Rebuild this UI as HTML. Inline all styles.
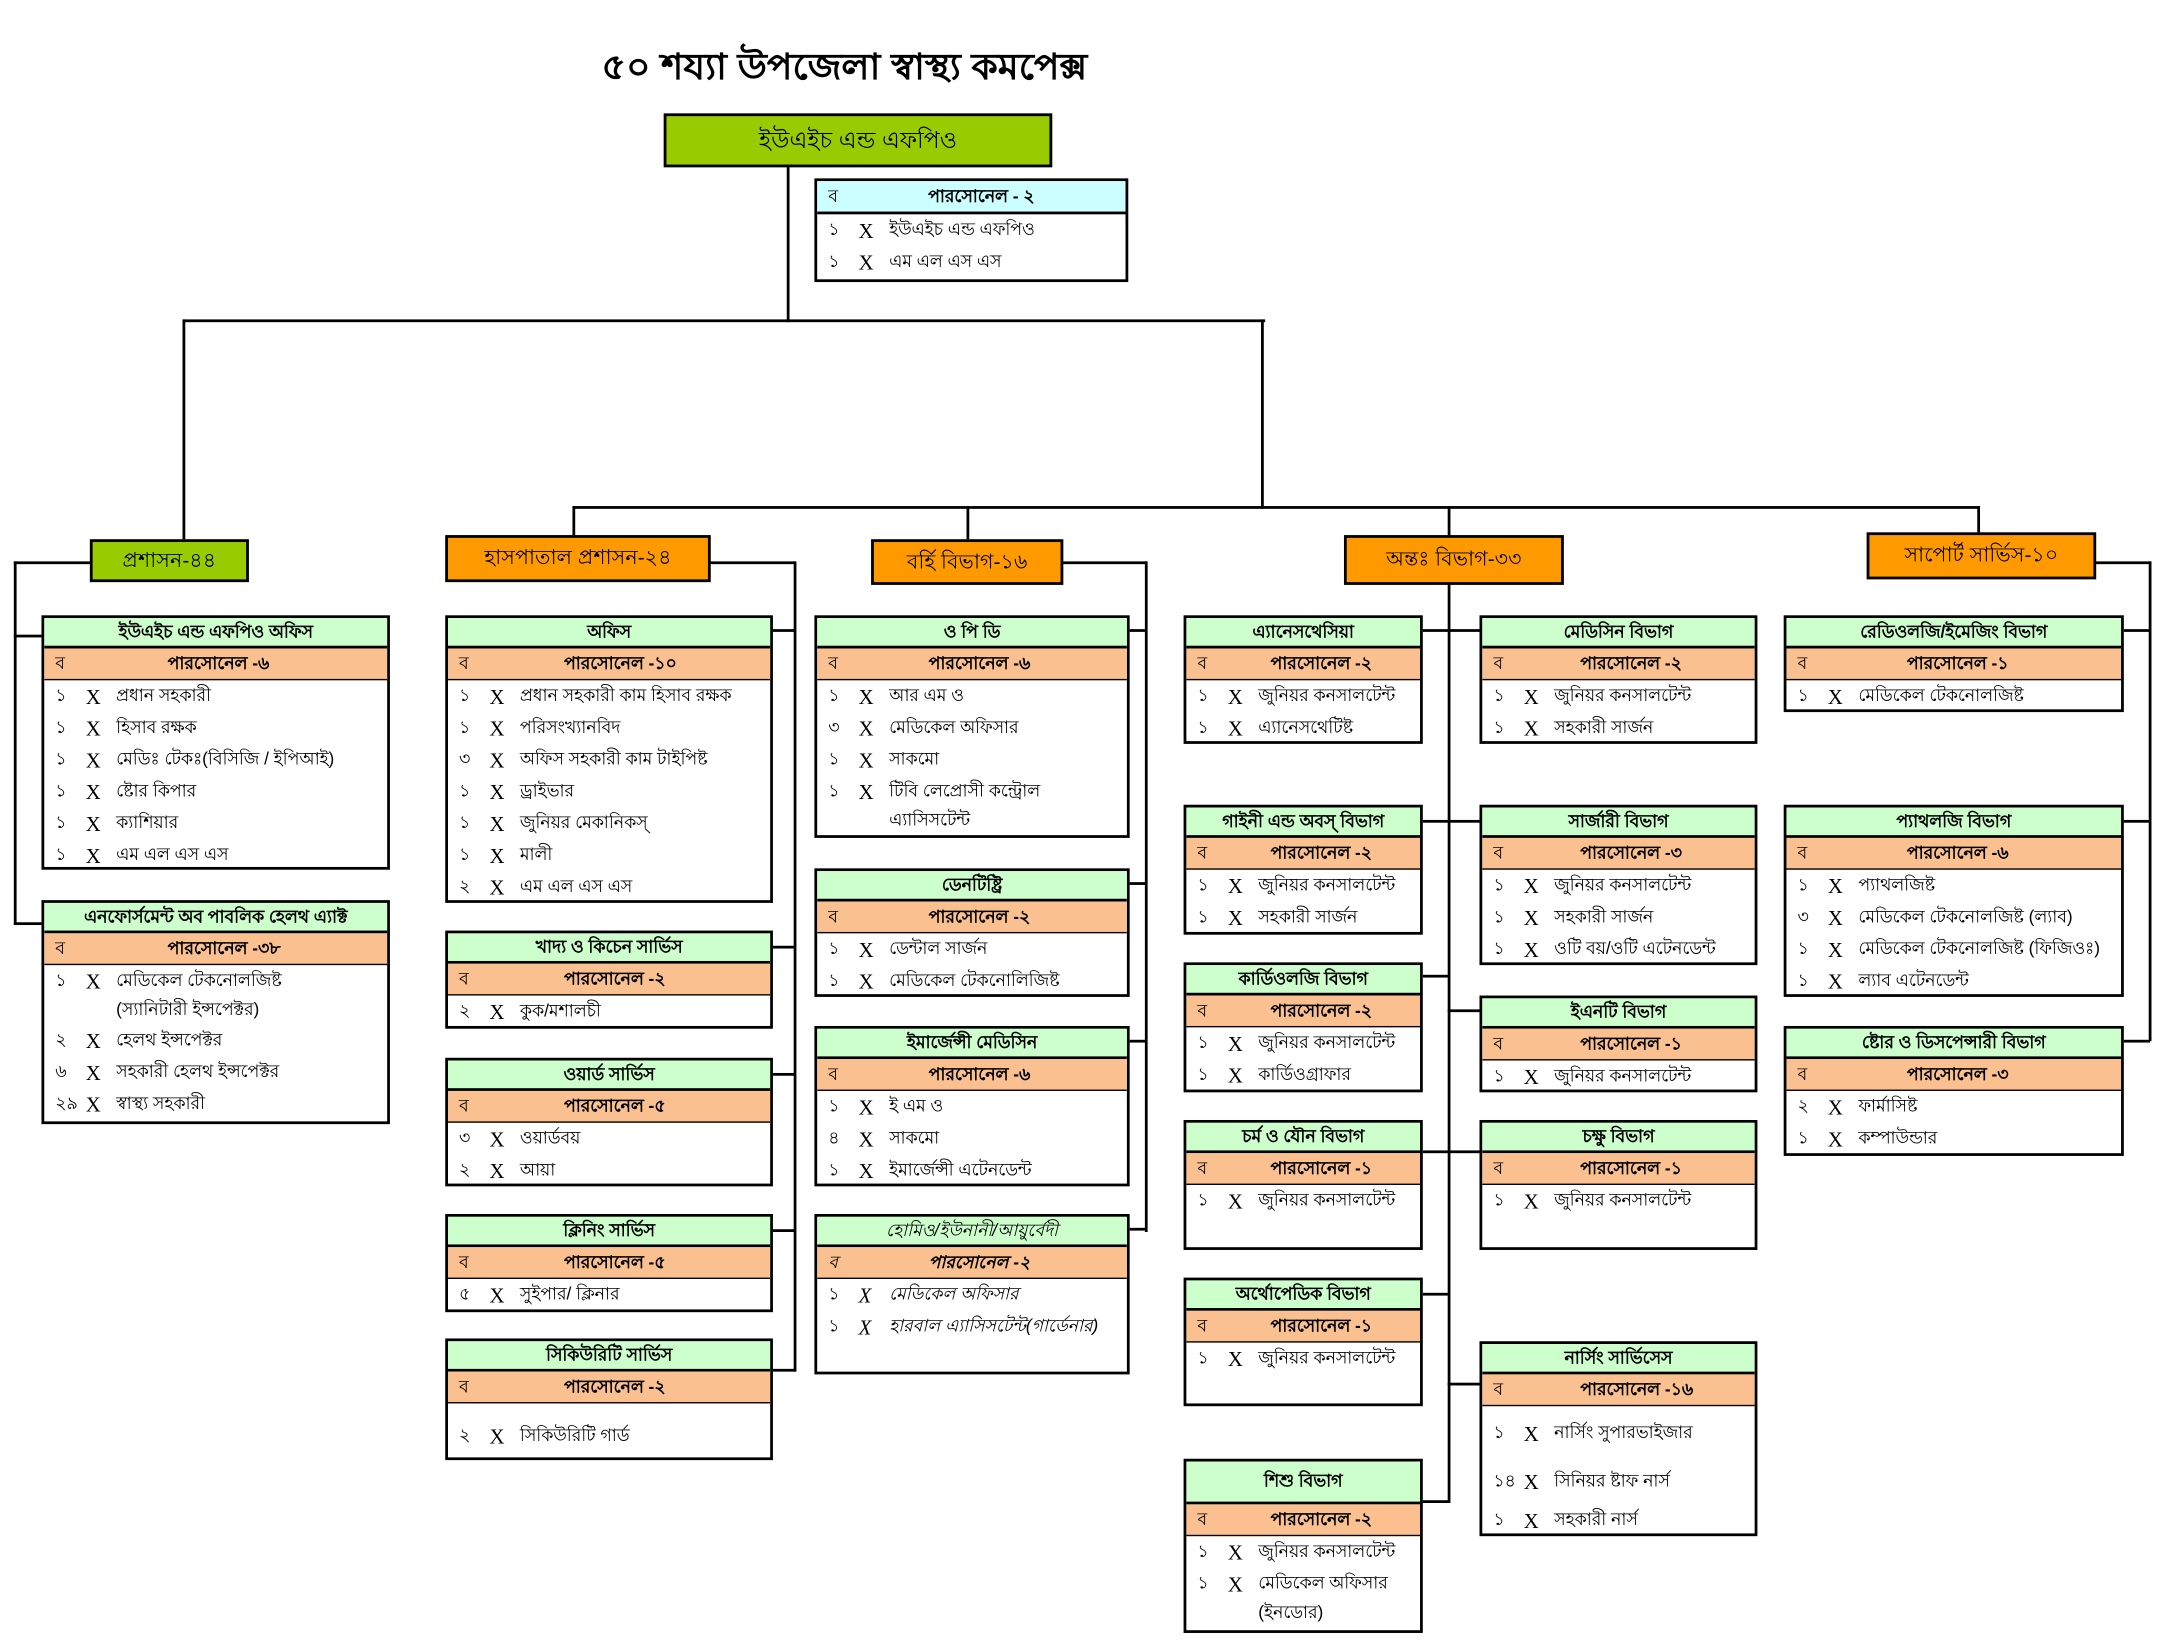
<!DOCTYPE html>
<html><head><meta charset="utf-8">
<style>
html,body{margin:0;padding:0;background:#fff;width:2168px;height:1644px;overflow:hidden}
#w{position:absolute;left:0;top:0;width:1568px;height:1189px;transform:scale(1.3827);transform-origin:0 0;font-family:"Liberation Sans","Noto Sans CJK SC",sans-serif;color:#000}
.b{position:absolute;border:2px solid #000;background:#fff;box-sizing:border-box;font-size:12.5px;overflow:hidden}
.h{background:#ccffcc;border-bottom:2px solid #000;height:20px;line-height:20px;text-align:center;font-weight:bold;white-space:nowrap}
.p{background:#fac090;border-bottom:1px solid #000;height:22px;line-height:22px;position:relative;font-weight:bold;padding-left:36%;white-space:nowrap}
.p s{position:absolute;left:8px;text-decoration:none;font-weight:normal}
.r{height:23px;line-height:23px;white-space:nowrap;position:relative;padding-left:52px}
.r i{position:absolute;left:8px;font-style:normal}
.r u{position:absolute;left:30px;text-decoration:none;font-family:"Liberation Serif",serif;font-size:15px;top:2px}
.t{padding-left:52px;height:20px;line-height:18px;white-space:nowrap}
.l{position:absolute;background:#000}
.L{position:absolute;box-sizing:border-box;border:2px solid #000;text-align:center;font-size:15px;white-space:nowrap}
</style></head><body><div id="w">

<div style="position:absolute;left:435px;top:28px;font-size:26px;font-weight:bold;white-space:nowrap;transform:scaleX(1.05);transform-origin:0 0">৫০ শয্যা উপজেলা স্বাস্থ্য কমপেক্স</div>

<div class="L" style="left:480px;top:82px;width:281px;height:39px;line-height:35px;background:#99cc00;font-size:17px">ইউএইচ এন্ড এফপিও</div>

<div class="b" style="left:589px;top:129px;width:227px;height:75px">
<div class="p" style="background:#ccffff;border-bottom:2px solid #000"><s>ব</s>পারসোনেল - ২</div>
<div class="r"><i>১</i><u>X</u>ইউএইচ এন্ড এফপিও</div>
<div class="r"><i>১</i><u>X</u>এম এল এস এস</div>
</div>

<div class="l" style="left:569px;top:120px;width:2px;height:113px"></div>
<div class="l" style="left:132px;top:231px;width:783px;height:2px"></div>
<div class="l" style="left:132px;top:231px;width:2px;height:160px"></div>
<div class="l" style="left:912px;top:231px;width:2px;height:137px"></div>
<div class="l" style="left:414px;top:366px;width:1018px;height:2px"></div>
<div class="l" style="left:414px;top:366px;width:2px;height:22px"></div>
<div class="l" style="left:699px;top:366px;width:2px;height:25px"></div>
<div class="l" style="left:1047px;top:366px;width:2px;height:22px"></div>
<div class="l" style="left:1430px;top:366px;width:2px;height:20px"></div>

<div class="L" style="left:65px;top:390px;width:115px;height:31px;line-height:27px;background:#99cc00">প্রশাসন-৪৪</div>
<div class="L" style="left:322px;top:387px;width:192px;height:34px;line-height:30px;background:#ff9900">হাসপাতাল প্রশাসন-২৪</div>
<div class="L" style="left:630px;top:390px;width:139px;height:33px;line-height:29px;background:#ff9900">বর্হি বিভাগ-১৬</div>
<div class="L" style="left:972px;top:387px;width:159px;height:36px;line-height:32px;background:#ff9900">অন্তঃ বিভাগ-৩৩</div>
<div class="L" style="left:1350px;top:385px;width:166px;height:34px;line-height:30px;background:#ff9900">সাপোর্ট সার্ভিস-১০</div>

<div class="l" style="left:10px;top:406px;width:56px;height:2px"></div>
<div class="l" style="left:10px;top:406px;width:2px;height:263px"></div>
<div class="l" style="left:10px;top:459px;width:21px;height:2px"></div>
<div class="l" style="left:10px;top:667px;width:21px;height:2px"></div>
<div class="l" style="left:513px;top:406px;width:62px;height:2px"></div>
<div class="l" style="left:574px;top:406px;width:2px;height:586px"></div>
<div class="l" style="left:557px;top:455px;width:18px;height:2px"></div>
<div class="l" style="left:557px;top:684px;width:18px;height:2px"></div>
<div class="l" style="left:557px;top:776px;width:18px;height:2px"></div>
<div class="l" style="left:557px;top:889px;width:18px;height:2px"></div>
<div class="l" style="left:557px;top:990px;width:18px;height:2px"></div>
<div class="l" style="left:768px;top:406px;width:61px;height:2px"></div>
<div class="l" style="left:828px;top:406px;width:2px;height:485px"></div>
<div class="l" style="left:815px;top:455px;width:14px;height:2px"></div>
<div class="l" style="left:815px;top:638px;width:14px;height:2px"></div>
<div class="l" style="left:815px;top:752px;width:14px;height:2px"></div>
<div class="l" style="left:815px;top:888px;width:14px;height:2px"></div>
<div class="l" style="left:1047px;top:422px;width:2px;height:665px"></div>
<div class="l" style="left:1027px;top:455px;width:44px;height:2px"></div>
<div class="l" style="left:1027px;top:593px;width:44px;height:2px"></div>
<div class="l" style="left:1027px;top:705px;width:21px;height:2px"></div>
<div class="l" style="left:1047px;top:730px;width:24px;height:2px"></div>
<div class="l" style="left:1027px;top:832px;width:44px;height:2px"></div>
<div class="l" style="left:1027px;top:935px;width:21px;height:2px"></div>
<div class="l" style="left:1047px;top:1000px;width:24px;height:2px"></div>
<div class="l" style="left:1027px;top:1085px;width:21px;height:2px"></div>
<div class="l" style="left:1515px;top:406px;width:41px;height:2px"></div>
<div class="l" style="left:1554px;top:406px;width:2px;height:347px"></div>
<div class="l" style="left:1534px;top:455px;width:21px;height:2px"></div>
<div class="l" style="left:1534px;top:593px;width:21px;height:2px"></div>
<div class="l" style="left:1534px;top:752px;width:21px;height:2px"></div>

<div class="b" style="left:30px;top:445px;width:252px;height:184px">
<div class="h">ইউএইচ এন্ড এফপিও অফিস</div>
<div class="p"><s>ব</s>পারসোনেল -৬</div>
<div class="r"><i>১</i><u>X</u>প্রধান সহকারী</div>
<div class="r"><i>১</i><u>X</u>হিসাব রক্ষক</div>
<div class="r"><i>১</i><u>X</u>মেডিঃ টেকঃ(বিসিজি / ইপিআই)</div>
<div class="r"><i>১</i><u>X</u>ষ্টোর কিপার</div>
<div class="r"><i>১</i><u>X</u>ক্যাশিয়ার</div>
<div class="r"><i>১</i><u>X</u>এম এল এস এস</div>
</div>
<div class="b" style="left:30px;top:651px;width:252px;height:162px">
<div class="h">এনফোর্সমেন্ট অব পাবলিক হেলথ এ্যাক্ট</div>
<div class="p"><s>ব</s>পারসোনেল -৩৮</div>
<div class="r"><i>১</i><u>X</u>মেডিকেল টেকনোলজিষ্ট</div>
<div class="t">(স্যানিটারী ইন্সপেক্টর)</div>
<div class="r"><i>২</i><u>X</u>হেলথ ইন্সপেক্টর</div>
<div class="r"><i>৬</i><u>X</u>সহকারী হেলথ ইন্সপেক্টর</div>
<div class="r"><i>২৯</i><u>X</u>স্বাস্থ্য সহকারী</div>
</div>

<div class="b" style="left:322px;top:445px;width:237px;height:208px">
<div class="h">অফিস</div>
<div class="p"><s>ব</s>পারসোনেল -১০</div>
<div class="r"><i>১</i><u>X</u>প্রধান সহকারী কাম হিসাব রক্ষক</div>
<div class="r"><i>১</i><u>X</u>পরিসংখ্যানবিদ</div>
<div class="r"><i>৩</i><u>X</u>অফিস সহকারী কাম টাইপিষ্ট</div>
<div class="r"><i>১</i><u>X</u>ড্রাইভার</div>
<div class="r"><i>১</i><u>X</u>জুনিয়র মেকানিকস্</div>
<div class="r"><i>১</i><u>X</u>মালী</div>
<div class="r"><i>২</i><u>X</u>এম এল এস এস</div>
</div>
<div class="b" style="left:322px;top:673px;width:237px;height:71px">
<div class="h">খাদ্য ও কিচেন সার্ভিস</div>
<div class="p"><s>ব</s>পারসোনেল -২</div>
<div class="r"><i>২</i><u>X</u>কুক/মশালচী</div>
</div>
<div class="b" style="left:322px;top:765px;width:237px;height:93px">
<div class="h">ওয়ার্ড সার্ভিস</div>
<div class="p"><s>ব</s>পারসোনেল -৫</div>
<div class="r"><i>৩</i><u>X</u>ওয়ার্ডবয়</div>
<div class="r"><i>২</i><u>X</u>আয়া</div>
</div>
<div class="b" style="left:322px;top:878px;width:237px;height:71px">
<div class="h">ক্লিনিং সার্ভিস</div>
<div class="p"><s>ব</s>পারসোনেল -৫</div>
<div class="r"><i>৫</i><u>X</u>সুইপার/ ক্লিনার</div>
</div>
<div class="b" style="left:322px;top:968px;width:237px;height:88px">
<div class="h">সিকিউরিটি সার্ভিস</div>
<div class="p"><s>ব</s>পারসোনেল -২</div>
<div style="height:12px"></div>
<div class="r"><i>২</i><u>X</u>সিকিউরিটি গার্ড</div>
</div>

<div class="b" style="left:589px;top:445px;width:228px;height:161px">
<div class="h">ও পি ডি</div>
<div class="p"><s>ব</s>পারসোনেল -৬</div>
<div class="r"><i>১</i><u>X</u>আর এম ও</div>
<div class="r"><i>৩</i><u>X</u>মেডিকেল অফিসার</div>
<div class="r"><i>১</i><u>X</u>সাকমো</div>
<div class="r"><i>১</i><u>X</u>টিবি লেপ্রোসী কন্ট্রোল</div>
<div class="t">এ্যাসিসটেন্ট</div>
</div>
<div class="b" style="left:589px;top:628px;width:228px;height:93px">
<div class="h">ডেনটিষ্ট্রি</div>
<div class="p"><s>ব</s>পারসোনেল -২</div>
<div class="r"><i>১</i><u>X</u>ডেন্টাল সার্জন</div>
<div class="r"><i>১</i><u>X</u>মেডিকেল টেকনোলিজিষ্ট</div>
</div>
<div class="b" style="left:589px;top:742px;width:228px;height:116px">
<div class="h">ইমার্জেন্সী মেডিসিন</div>
<div class="p"><s>ব</s>পারসোনেল -৬</div>
<div class="r"><i>১</i><u>X</u>ই এম ও</div>
<div class="r"><i>৪</i><u>X</u>সাকমো</div>
<div class="r"><i>১</i><u>X</u>ইমার্জেন্সী এটেনডেন্ট</div>
</div>
<div class="b" style="left:589px;top:878px;width:228px;height:116px;font-style:italic">
<div class="h" style="font-weight:normal">হোমিও/ইউনানী/আয়ুর্বেদী</div>
<div class="p"><s>ব</s>পারসোনেল -২</div>
<div class="r"><i>১</i><u>X</u>মেডিকেল অফিসার</div>
<div class="r"><i>১</i><u>X</u>হারবাল এ্যাসিসটেন্ট(গার্ডেনার)</div>
</div>

<div class="b" style="left:856px;top:445px;width:173px;height:93px">
<div class="h">এ্যানেসথেসিয়া</div>
<div class="p"><s>ব</s>পারসোনেল -২</div>
<div class="r"><i>১</i><u>X</u>জুনিয়র কনসালটেন্ট</div>
<div class="r"><i>১</i><u>X</u>এ্যানেসথেটিষ্ট</div>
</div>
<div class="b" style="left:856px;top:582px;width:173px;height:94px">
<div class="h">গাইনী এন্ড অবস্ বিভাগ</div>
<div class="p"><s>ব</s>পারসোনেল -২</div>
<div class="r"><i>১</i><u>X</u>জুনিয়র কনসালটেন্ট</div>
<div class="r"><i>১</i><u>X</u>সহকারী সার্জন</div>
</div>
<div class="b" style="left:856px;top:696px;width:173px;height:94px">
<div class="h">কার্ডিওলজি বিভাগ</div>
<div class="p"><s>ব</s>পারসোনেল -২</div>
<div class="r"><i>১</i><u>X</u>জুনিয়র কনসালটেন্ট</div>
<div class="r"><i>১</i><u>X</u>কার্ডিওগ্রাফার</div>
</div>
<div class="b" style="left:856px;top:810px;width:173px;height:94px">
<div class="h">চর্ম ও যৌন বিভাগ</div>
<div class="p"><s>ব</s>পারসোনেল -১</div>
<div class="r"><i>১</i><u>X</u>জুনিয়র কনসালটেন্ট</div>
</div>
<div class="b" style="left:856px;top:924px;width:173px;height:93px">
<div class="h">অর্থোপেডিক বিভাগ</div>
<div class="p"><s>ব</s>পারসোনেল -১</div>
<div class="r"><i>১</i><u>X</u>জুনিয়র কনসালটেন্ট</div>
</div>
<div class="b" style="left:856px;top:1055px;width:173px;height:126px">
<div class="h" style="height:29px;line-height:29px">শিশু বিভাগ</div>
<div class="p"><s>ব</s>পারসোনেল -২</div>
<div class="r"><i>১</i><u>X</u>জুনিয়র কনসালটেন্ট</div>
<div class="r"><i>১</i><u>X</u>মেডিকেল অফিসার</div>
<div class="t">(ইনডোর)</div>
</div>

<div class="b" style="left:1070px;top:445px;width:201px;height:93px">
<div class="h">মেডিসিন বিভাগ</div>
<div class="p"><s>ব</s>পারসোনেল -২</div>
<div class="r"><i>১</i><u>X</u>জুনিয়র কনসালটেন্ট</div>
<div class="r"><i>১</i><u>X</u>সহকারী সার্জন</div>
</div>
<div class="b" style="left:1070px;top:582px;width:201px;height:116px">
<div class="h">সার্জারী বিভাগ</div>
<div class="p"><s>ব</s>পারসোনেল -৩</div>
<div class="r"><i>১</i><u>X</u>জুনিয়র কনসালটেন্ট</div>
<div class="r"><i>১</i><u>X</u>সহকারী সার্জন</div>
<div class="r"><i>১</i><u>X</u>ওটি বয়/ওটি এটেনডেন্ট</div>
</div>
<div class="b" style="left:1070px;top:720px;width:201px;height:70px">
<div class="h">ইএনটি বিভাগ</div>
<div class="p"><s>ব</s>পারসোনেল -১</div>
<div class="r"><i>১</i><u>X</u>জুনিয়র কনসালটেন্ট</div>
</div>
<div class="b" style="left:1070px;top:810px;width:201px;height:94px">
<div class="h">চক্ষু বিভাগ</div>
<div class="p"><s>ব</s>পারসোনেল -১</div>
<div class="r"><i>১</i><u>X</u>জুনিয়র কনসালটেন্ট</div>
</div>
<div class="b" style="left:1070px;top:970px;width:201px;height:141px">
<div class="h">নার্সিং সার্ভিসেস</div>
<div class="p"><s>ব</s>পারসোনেল -১৬</div>
<div style="height:8px"></div>
<div class="r" style="height:35px"><i>১</i><u>X</u>নার্সিং সুপারভাইজার</div>
<div class="r" style="height:28px"><i>১৪</i><u>X</u>সিনিয়র ষ্টাফ নার্স</div>
<div class="r"><i>১</i><u>X</u>সহকারী নার্স</div>
</div>

<div class="b" style="left:1290px;top:445px;width:246px;height:70px">
<div class="h">রেডিওলজি/ইমেজিং বিভাগ</div>
<div class="p"><s>ব</s>পারসোনেল -১</div>
<div class="r"><i>১</i><u>X</u>মেডিকেল টেকনোলজিষ্ট</div>
</div>
<div class="b" style="left:1290px;top:582px;width:246px;height:139px">
<div class="h">প্যাথলজি বিভাগ</div>
<div class="p"><s>ব</s>পারসোনেল -৬</div>
<div class="r"><i>১</i><u>X</u>প্যাথলজিষ্ট</div>
<div class="r"><i>৩</i><u>X</u>মেডিকেল টেকনোলজিষ্ট (ল্যাব)</div>
<div class="r"><i>১</i><u>X</u>মেডিকেল টেকনোলজিষ্ট (ফিজিওঃ)</div>
<div class="r"><i>১</i><u>X</u>ল্যাব এটেনডেন্ট</div>
</div>
<div class="b" style="left:1290px;top:742px;width:246px;height:94px">
<div class="h">ষ্টোর ও ডিসপেন্সারী বিভাগ</div>
<div class="p"><s>ব</s>পারসোনেল -৩</div>
<div class="r"><i>২</i><u>X</u>ফার্মাসিষ্ট</div>
<div class="r"><i>১</i><u>X</u>কম্পাউন্ডার</div>
</div>

</div></body></html>
